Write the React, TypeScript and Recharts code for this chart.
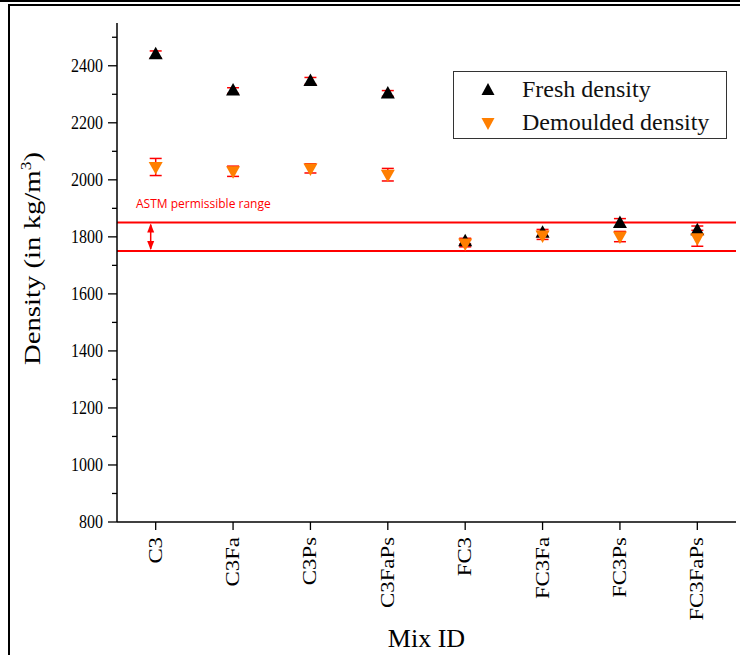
import React from "react";
import {
  ComposedChart,
  Scatter,
  ErrorBar,
  XAxis,
  YAxis,
  ReferenceLine,
} from "recharts";

const mixIds = ["C3", "C3Fa", "C3Ps", "C3FaPs", "FC3", "FC3Fa", "FC3Ps", "FC3FaPs"];
const freshDensity = [2440, 2313, 2347, 2303, 1785, 1814, 1849, 1823];
const freshErr = [12, 10, 12, 10, 10, 12, 15, 15];
const demouldedDensity = [2045, 2030, 2040, 2018, 1777, 1805, 1801, 1795];
const demouldedErr = [30, 18, 16, 22, 12, 14, 18, 28];
const yTicks = [800, 900, 1000, 1100, 1200, 1300, 1400, 1500, 1600, 1700, 1800, 1900, 2000, 2100, 2200, 2300, 2400, 2500];
const astmLow = 1750;
const astmHigh = 1850;

const data = mixIds.map((mix, i) => ({
  mix,
  fresh: freshDensity[i],
  freshErr: freshErr[i],
  demoulded: demouldedDensity[i],
  demouldedErr: demouldedErr[i],
}));

const serif = "'Liberation Serif', 'Times New Roman', serif";
const ORANGE = "#ff7f00";
const RED = "#ff0000";

const UpTriangle = (props: any) => {
  const { cx, cy } = props;
  if (cx == null || cy == null) return null;
  return <polygon points={`${cx},${cy - 7.5} ${cx - 7},${cy + 5} ${cx + 7},${cy + 5}`} fill="#000" />;
};

const DownTriangle = (props: any) => {
  const { cx, cy } = props;
  if (cx == null || cy == null) return null;
  return <polygon points={`${cx},${cy + 7.5} ${cx - 7},${cy - 5} ${cx + 7},${cy - 5}`} fill={ORANGE} />;
};

const YTick = (props: any) => {
  const { x, y, payload } = props;
  const major = payload.value % 200 === 0;
  return (
    <g>
      <line x1={x - (major ? 9 : 5)} x2={x} y1={y} y2={y} stroke="#000" strokeWidth={1.3} />
      {major && (
        <text
          transform={`translate(${x - 14},${y + 6}) scale(1,1.15)`}
          textAnchor="end"
          fontFamily={serif}
          fontSize={16}
          fill="#000"
        >
          {payload.value}
        </text>
      )}
    </g>
  );
};

const XTick = (props: any) => {
  const { x, y, payload } = props;
  return (
    <g transform={`translate(${x},${y})`}>
      <line x1={0} x2={0} y1={0} y2={8} stroke="#000" strokeWidth={1.3} />
      <text transform="rotate(-90) translate(-15,6) scale(1.2,1)" textAnchor="end" fontFamily={serif} fontSize={19} fill="#000">
        {payload.value}
      </text>
    </g>
  );
};

const YTitle = (props: any) => {
  const vb = props.viewBox || {};
  const cx = 40;
  const cy = (vb.y ?? 23) + (vb.height ?? 499) / 2 - 14;
  return (
    <text transform={`translate(${cx},${cy}) rotate(-90) scale(1.25,1)`} textAnchor="middle" fontFamily={serif} fontSize={23} fill="#000">
      Density (in kg/m<tspan dy={-9} fontSize={14}>3</tspan>
      <tspan dy={9}>)</tspan>
    </text>
  );
};

const XTitle = (props: any) => {
  const vb = props.viewBox || {};
  const cx = (vb.x ?? 117) + (vb.width ?? 619) / 2;
  return (
    <text x={cx} y={647} textAnchor="middle" fontFamily={serif} fontSize={26} fill="#000">
      Mix ID
    </text>
  );
};

const RangeArrow = (props: any) => {
  const { x1, y1, y2 } = props;
  if (x1 == null) return null;
  const x = x1 - 5;
  const top = Math.min(y1, y2);
  const bot = Math.max(y1, y2);
  return (
    <g>
      <line x1={x} x2={x} y1={top + 2} y2={bot - 2} stroke={RED} strokeWidth={1.5} />
      <polygon points={`${x},${top + 1} ${x - 3.5},${top + 10} ${x + 3.5},${top + 10}`} fill={RED} />
      <polygon points={`${x},${bot - 1} ${x - 3.5},${bot - 10} ${x + 3.5},${bot - 10}`} fill={RED} />
    </g>
  );
};

const AstmLabel = (props: any) => {
  const vb = props.viewBox || {};
  return (
    <text x={(vb.x ?? 117) + 19} y={(vb.y ?? 222) - 15} fontFamily="'Open Sans', sans-serif" fontSize={12} fill={RED}>
      ASTM permissible range
    </text>
  );
};

const LegendBox = () => (
  <div
    style={{
      position: "absolute",
      left: 453,
      top: 71,
      width: 272,
      height: 66,
      border: "1px solid #333",
      background: "#fff",
      fontFamily: serif,
      fontSize: 24,
      color: "#111",
    }}
  >
    <div style={{ display: "flex", alignItems: "center", height: 33, marginTop: 1 }}>
      <svg width={68} height={20}>
        <polygon points="34,3 27.5,15 40.5,15" fill="#000" />
      </svg>
      <span>Fresh density</span>
    </div>
    <div style={{ display: "flex", alignItems: "center", height: 33 }}>
      <svg width={68} height={20}>
        <polygon points="34,17 27.5,5 40.5,5" fill={ORANGE} />
      </svg>
      <span>Demoulded density</span>
    </div>
  </div>
);

export default function App() {
  return (
    <div style={{ position: "absolute", left: 0, top: 0, width: 740, height: 655, background: "#fff", overflow: "hidden" }}>
      <div style={{ position: "absolute", left: 0, top: 0 }}>
        <ComposedChart width={740} height={655} data={data} margin={{ top: 23, right: 4, bottom: 0, left: 0 }}>
          <XAxis
            dataKey="mix"
            type="category"
            scale="band"
            height={133}
            tickSize={0}
            tickMargin={0}
            tickLine={false}
            tick={<XTick />}
            interval={0}
            axisLine={{ stroke: "#000", strokeWidth: 1.5 }}
            label={<XTitle />}
          />
          <YAxis
            type="number"
            domain={[800, 2550]}
            ticks={yTicks}
            width={117}
            tickSize={0}
            tickMargin={0}
            tickLine={false}
            tick={<YTick />}
            interval={0}
            allowDataOverflow
            axisLine={{ stroke: "#000", strokeWidth: 1.5 }}
            label={<YTitle />}
          />
          <ReferenceLine y={astmHigh} stroke={RED} strokeWidth={2} label={<AstmLabel />} />
          <ReferenceLine y={astmLow} stroke={RED} strokeWidth={2} />
          <ReferenceLine
            segment={[
              { x: "C3", y: astmLow },
              { x: "C3", y: astmHigh },
            ]}
            shape={<RangeArrow />}
          />
          <Scatter name="Fresh density" dataKey="fresh" shape={<UpTriangle />} isAnimationActive={false}>
            <ErrorBar dataKey="freshErr" direction="y" width={6} stroke={RED} strokeWidth={1.5} />
          </Scatter>
          <Scatter name="Demoulded density" dataKey="demoulded" shape={<DownTriangle />} isAnimationActive={false}>
            <ErrorBar dataKey="demouldedErr" direction="y" width={6} stroke={RED} strokeWidth={1.5} />
          </Scatter>
        </ComposedChart>
      </div>
      <LegendBox />
      <div style={{ position: "absolute", left: 0, top: 0, width: 740, height: 2, background: "#000" }} />
      <div style={{ position: "absolute", left: 8, top: 4, width: 732, height: 1.5, background: "#000" }} />
      <div style={{ position: "absolute", left: 8, top: 4, width: 2, height: 651, background: "#000" }} />
    </div>
  );
}
